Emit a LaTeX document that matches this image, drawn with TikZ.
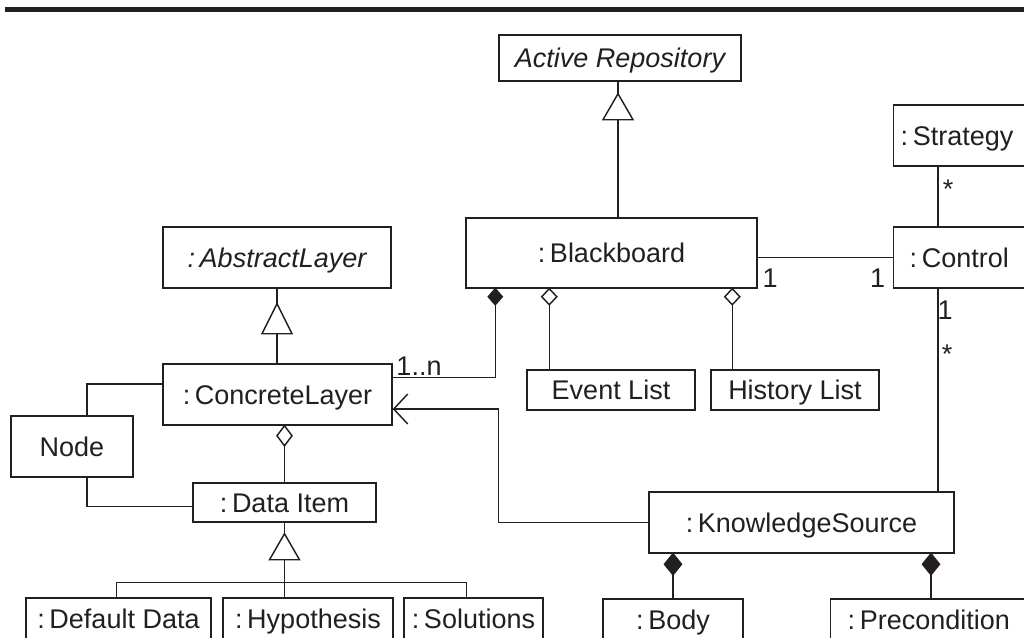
\documentclass[tikz,border=0pt]{standalone}
\usepackage{fontspec}
\setmainfont{Liberation Sans}
\usetikzlibrary{arrows.meta,calc}
\definecolor{ink}{RGB}{35,31,32}
% instance-name colon with a narrow gap after it
\newcommand{\instcolon}{:\hspace{0.17em}}

\begin{document}
\begin{tikzpicture}[x=1pt,y=-1pt,
  color=ink, line width=1.45pt,
  cls/.style={draw=ink, line width=1.45pt, inner sep=0pt, fill=white,
    font=\fontsize{27}{30}\selectfont, text height=19.3pt, text depth=0pt},
  abstractcls/.style={cls, font=\fontsize{27}{30}\selectfont\itshape},
  mult/.style={font=\fontsize{27}{30}\selectfont, inner sep=0pt, anchor=base},
  navarrow/.style={-{Straight Barb[length=14pt,width=30pt]}},
  gentri/.style={fill=white, line join=miter},
  % aggregation / composition diamonds hanging below the owner's edge
  pics/aggdiamond/.style 2 args={code={
    \draw[fill=white, line join=miter] (0,0) -- (-#1,#2/2) -- (0,#2) -- (#1,#2/2) -- cycle;}},
  pics/compdiamond/.style 2 args={code={
    \draw[fill=ink, line join=miter] (0,0) -- (-#1,#2/2) -- (0,#2) -- (#1,#2/2) -- cycle;}},
]
\useasboundingbox (0,0) rectangle (1024,637);
\clip (0,0) rectangle (1024,637);

% heading rule
\fill (5,7) rectangle (1024,12.3);

% classes
\node[abstractcls, minimum width=242pt, minimum height=46pt] (ar) at (620,58) {Active Repository};
\node[cls, minimum width=291pt, minimum height=70pt] (bb) at (611.5,253) {\instcolon Blackboard};
\node[cls, anchor=west, minimum height=61pt, inner xsep=7pt] (str) at (893,135.5) {\makebox[150pt][l]{\instcolon Strategy}};
\node[cls, anchor=west, minimum height=61pt, inner xsep=16pt] (ctl) at (893,257.5) {\makebox[150pt][l]{\instcolon Control}};
\node[abstractcls, minimum width=228pt, minimum height=61pt] (al) at (277,257.5) {\instcolon AbstractLayer};
\node[cls, minimum width=229pt, minimum height=61pt] (cl) at (277.5,394.5) {\instcolon ConcreteLayer};
\node[cls, minimum width=122pt, minimum height=61pt] (nd) at (72,446.5) {Node};
\node[cls, minimum width=183pt, minimum height=39pt] (di) at (284.5,502.5) {\instcolon Data Item};
\node[cls, minimum width=168pt, minimum height=40pt] (el) at (611,390) {Event List};
\node[cls, minimum width=168pt, minimum height=40pt] (hl) at (795,390) {History List};
\node[cls, minimum width=305pt, minimum height=61pt] (ks) at (801.5,522.5) {\instcolon KnowledgeSource};
\node[cls, minimum width=185pt, minimum height=42pt] (dd) at (118.5,619) {\instcolon Default Data};
\node[cls, minimum width=170pt, minimum height=42pt] (hy) at (308,619) {\instcolon Hypothesis};
\node[cls, minimum width=139pt, minimum height=42pt] (so) at (473.5,619) {\instcolon Solutions};
\node[cls, minimum width=140pt, minimum height=42pt] (body) at (673,620) {\instcolon Body};
\node[cls, anchor=west, minimum height=42pt, inner xsep=17pt] (pre) at (830,620) {\makebox[200pt][l]{\instcolon Precondition}};

% Blackboard is an Active Repository
\coordinate (gx) at (618,0);
\draw (bb.north -| gx) -- (ar.south -| gx);
\draw[gentri] ($(ar.south -| gx)+(0,12)$) -- ++(-15,26) -- ++(30,0) -- cycle;

% ConcreteLayer is an AbstractLayer
\draw (cl.north -| al.south) -- (al.south);
\draw[gentri] ($(al.south)+(0,15)$) -- ++(-15,30) -- ++(30,0) -- cycle;

% Blackboard parts
\coordinate (a0) at ($(bb.south west)+(30,0)$);
\coordinate (a1) at ($(bb.south west)+(84,0)$);
\coordinate (a2) at ($(bb.south west)+(267,0)$);
\draw (a0) |- ($(cl.north east)+(0,14)$);
\draw (a1) -- (a1 |- el.north);
\draw (a2) -- (a2 |- hl.north);
\pic at (a0) {compdiamond={7}{16}};
\pic at (a1) {aggdiamond={7.5}{16}};
\pic at (a2) {aggdiamond={7.5}{16}};

% Blackboard -- Control -- Strategy
\draw (ctl.west) -- (ctl.west -| bb.east);
\coordinate (cx) at (938,0);
\draw (str.south -| cx) -- (ctl.north -| cx);
\draw (ctl.south -| cx) -- (ks.north -| cx);

% KnowledgeSource navigates to ConcreteLayer
\draw[navarrow] (ks.west) -| ($(cl.east)+(106,14.5)$) -- ($(cl.east)+(0,14.5)$);

% Node links
\draw ($(cl.west)+(0,-10.5)$) -| ($(nd.north)+(15,0)$);
\draw ($(nd.south)+(15,0)$) |- ($(di.west)+(0,4)$);

% ConcreteLayer holds Data Items
\draw (cl.south -| di.north) -- (di.north);
\pic at (cl.south -| di.north) {aggdiamond={7.5}{20}};

% Data Item specialisations
\draw (di.south) -- (di.south |- hy.north);
\draw ($(dd.north west)+(91,0)$) |- ($(so.north west)+(63,-15)$) -- ($(so.north west)+(63,0)$);
\draw[gentri] ($(di.south)+(0,11)$) -- ++(-15,26) -- ++(30,0) -- cycle;

% KnowledgeSource parts
\coordinate (px) at (931,0);
\draw (ks.south -| body.north) -- (body.north);
\draw (ks.south -| px) -- (px |- pre.north);
\pic at (ks.south -| body.north) {compdiamond={8.5}{21}};
\pic at (ks.south -| px) {compdiamond={8.5}{21}};

% multiplicities
\node[mult] (m1) at (770,287.5) {1};
\node[mult] (m2) at (877.5,287.5) {1};
\node[mult] (m3) at (419,375) {1..n};
\node[mult] (m4) at (948,198) {*};
\node[mult] (m5) at (945,319) {1};
\node[mult] (m6) at (947,363.5) {*};
\end{tikzpicture}
\end{document}
